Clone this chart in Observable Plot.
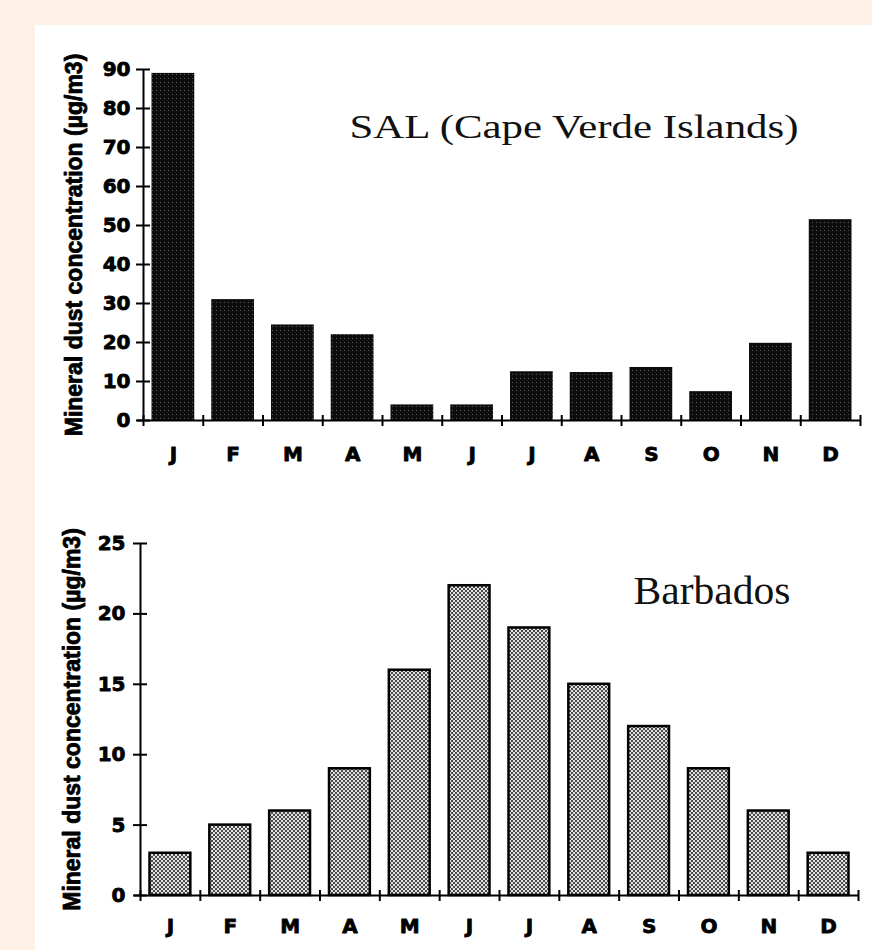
<!DOCTYPE html>
<html><head><meta charset="utf-8">
<script src="https://cdn.jsdelivr.net/npm/d3@7"></script>
<script src="https://cdn.jsdelivr.net/npm/@observablehq/plot@0.6"></script>
<style>
html,body{margin:0;padding:0;background:#fdf0e4;width:872px;height:950px;overflow:hidden}
#panel{position:absolute;left:35px;top:25px;width:837px;height:925px;background:#fff}
#c1{position:absolute;left:35px;top:25px}
#c2{position:absolute;left:35px;top:480px}
</style></head><body>
<div id="panel"></div>
<div id="c1"></div><div id="c2"></div>
<script>
const months = ["J","F","M","A","M","J","J","A","S","O","N","D"];
const salValues = [89, 31, 24.5, 22, 4, 4, 12.5, 12.3, 13.6, 7.4, 19.8, 51.5];
const barbadosValues = [3, 5, 6, 9, 16, 22, 19, 15, 12, 9, 6, 3];
const salTicks = [0, 10, 20, 30, 40, 50, 60, 70, 80, 90];
const barbadosTicks = [0, 5, 10, 15, 20, 25];
const salTitle = "SAL (Cape Verde Islands)";
const barbadosTitle = "Barbados";
const yLabel = "Mineral dust concentration (\u00b5g/m3)";

function addPatterns(svg) {
  const defs = d3.select(svg).insert("defs", ":first-child");
  const p1 = defs.append("pattern").attr("id", "darkdots").attr("patternUnits", "userSpaceOnUse")
    .attr("width", 4).attr("height", 4);
  p1.append("rect").attr("width", 4).attr("height", 4).attr("fill", "#0d0d0d");
  p1.append("rect").attr("x", 1).attr("y", 1).attr("width", 1).attr("height", 1).attr("fill", "#5a5a5a");
  const p2 = defs.append("pattern").attr("id", "checker").attr("patternUnits", "userSpaceOnUse")
    .attr("width", 4).attr("height", 4);
  p2.append("rect").attr("width", 4).attr("height", 4).attr("fill", "#e2e2e2");
  p2.append("rect").attr("width", 2).attr("height", 2).attr("fill", "#4a4a4a");
  p2.append("rect").attr("x", 2).attr("y", 2).attr("width", 2).attr("height", 2).attr("fill", "#4a4a4a");
}

function stretchText(svg, content, len) {
  d3.select(svg).selectAll("text").filter(function () { return this.textContent === content; })
    .attr("textLength", len).attr("lengthAdjust", "spacingAndGlyphs");
}

function makeChart(values, ticks, cfg) {
  const data = values.map((v, i) => ({i, month: months[i], value: v}));
  const sans = "DejaVu Sans";
  const svg = Plot.plot({
    width: 837, height: cfg.height,
    marginLeft: cfg.ml, marginRight: cfg.mr, marginTop: cfg.mt, marginBottom: cfg.mb,
    style: {background: "transparent", overflow: "visible", color: "#000"},
    x: {type: "linear", domain: [0, 12], axis: null},
    y: {domain: [0, ticks[ticks.length - 1]], axis: null},
    marks: [
      Plot.rectY(data, {x1: "i", x2: d => d.i + 1, y: "value", insetLeft: cfg.inset, insetRight: cfg.inset,
        fill: cfg.fill, stroke: cfg.stroke, strokeWidth: cfg.sw}),
      Plot.ruleX([0], {x: d => d, stroke: "#000", strokeWidth: 2}),
      Plot.ruleY([0], {y: d => d, stroke: "#000", strokeWidth: 2, insetLeft: -6}),
      Plot.ruleY(ticks, {y: d => d, x1: () => 0, x2: () => 0, insetLeft: -7, insetRight: -7, stroke: "#000", strokeWidth: 2}),
      Plot.ruleX(d3.range(13), {x: d => d, y1: () => 0, y2: () => 0, insetTop: -5, insetBottom: -6, stroke: "#000", strokeWidth: 2}),
      Plot.text(ticks, {y: d => d, text: d => String(d), frameAnchor: "left", textAnchor: "end", dx: cfg.tickDx,
        fontFamily: sans, fontWeight: "bold", fontSize: 20, fill: "#000", stroke: "#000", strokeWidth: 0.8}),
      Plot.text(data, {x: d => d.i + 0.5, text: "month", frameAnchor: "bottom", dy: cfg.monthDy, lineAnchor: "middle",
        textAnchor: "middle",
        fontFamily: sans, fontWeight: "bold", fontSize: 20, fill: "#000", stroke: "#000", strokeWidth: 0.8}),
      Plot.text([yLabel], {text: d => d, frameAnchor: "left", textAnchor: "middle", rotate: -90, dx: cfg.labelDx,
        lineAnchor: "middle",
        fontFamily: "Liberation Sans", fontWeight: "bold", fontSize: 23, fill: "#000", stroke: "#000", strokeWidth: 0.8}),
      Plot.text([cfg.title], {text: d => d, frameAnchor: "top-left", textAnchor: "start", lineAnchor: "bottom",
        dx: cfg.titleDx, dy: cfg.titleDy, fontFamily: "Liberation Serif", fontSize: cfg.titleSize, fill: "#111"})
    ]
  });
  addPatterns(svg);
  stretchText(svg, cfg.title, cfg.titleLen);
  return svg;
}

document.getElementById("c1").appendChild(makeChart(salValues, salTicks, {
  height: 455, ml: 108, mr: 12, mt: 44, mb: 60, inset: 8.5,
  fill: "url(#darkdots)", stroke: "none", sw: 0,
  tickDx: -13, monthDy: 34, labelDx: -69,
  title: salTitle, titleDx: 206, titleDy: 68, titleSize: 34, titleLen: 449
}));
document.getElementById("c2").appendChild(makeChart(barbadosValues, barbadosTicks, {
  height: 470, ml: 105, mr: 14, mt: 63, mb: 55, inset: 9.5,
  fill: "url(#checker)", stroke: "#000", sw: 2.5,
  tickDx: -15, monthDy: 31, labelDx: -68,
  title: barbadosTitle, titleDx: 493, titleDy: 60, titleSize: 39, titleLen: 157
}));
</script>
</body></html>
